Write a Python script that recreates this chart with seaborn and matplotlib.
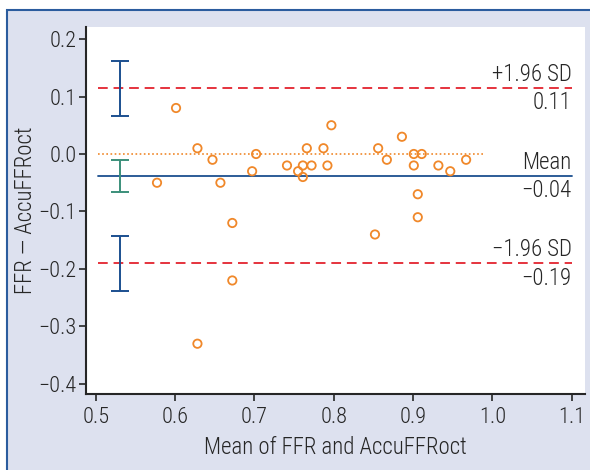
import numpy as np
import pandas as pd
import seaborn as sns
import matplotlib.pyplot as plt
from matplotlib.patches import Rectangle

# mean of FFR and AccuFFRoct vs difference
mean_vals = [0.577, 0.601, 0.628, 0.647, 0.657, 0.672, 0.672, 0.628, 0.697, 0.702,
             0.741, 0.755, 0.761, 0.761, 0.766, 0.772, 0.787, 0.792, 0.797, 0.852,
             0.856, 0.867, 0.886, 0.901, 0.911, 0.901, 0.932, 0.947, 0.967, 0.906,
             0.906]
diff_vals = [-0.05, 0.08, 0.01, -0.01, -0.05, -0.12, -0.22, -0.33, -0.03, 0.0,
             -0.02, -0.03, -0.04, -0.02, 0.01, -0.02, 0.01, -0.02, 0.05, -0.14,
             0.01, -0.01, 0.03, 0.0, 0.0, -0.02, -0.02, -0.03, -0.01, -0.07,
             -0.11]

mean_diff = -0.038
upper_loa = 0.115
lower_loa = -0.19
line_x = [0.502, 1.1]
zero_x = [0.502, 0.988]

# confidence intervals drawn at the left
ci_x = 0.53
ci_upper = [0.066, 0.162]
ci_mean = [-0.066, -0.011]
ci_lower = [-0.238, -0.142]

df = pd.DataFrame({"mean": mean_vals, "diff": diff_vals})

sns.set_style("ticks")
plt.rcParams['font.family'] = ['Roboto Condensed', 'DejaVu Sans']
plt.rcParams['font.weight'] = 'light'
plt.rcParams['axes.labelweight'] = 'light'

orange = "#f0882a"
red = "#e5333d"
navy = "#1b4f8f"
teal = "#3b8f7a"
ink = "#262626"

fig = plt.figure(figsize=(5.9, 4.7), dpi=100)
fig.patch.set_facecolor("white")
bg = Rectangle((7 / 590, -0.05), 1.1, 1 - 10 / 470 + 0.05,
               transform=fig.transFigure, facecolor="#dde1ef",
               edgecolor="#2b5c9e", linewidth=1.5, zorder=-10)
fig.add_artist(bg)

ax = fig.add_axes([86 / 590, 75.7 / 470, 499 / 590, 367.3 / 470])
ax.set_facecolor("white")

ax.plot(zero_x, [0, 0], color=orange, linestyle=(0, (1, 1.5)), linewidth=1.2)
ax.plot(line_x, [upper_loa, upper_loa], color=red, linestyle=(0, (5, 3)), linewidth=1.4)
ax.plot(line_x, [lower_loa, lower_loa], color=red, linestyle=(0, (5, 3)), linewidth=1.4)
ax.plot(line_x, [mean_diff, mean_diff], color=navy, linewidth=1.3)

for lims, col in [(ci_upper, navy), (ci_mean, teal), (ci_lower, navy)]:
    mid = (lims[0] + lims[1]) / 2
    half = (lims[1] - lims[0]) / 2
    ax.errorbar([ci_x], [mid], yerr=[half], color=col, linewidth=1.4,
                capsize=6.5, capthick=1.4, fmt="none")

sns.scatterplot(data=df, x="mean", y="diff", ax=ax, s=36, facecolor="none",
                edgecolor=orange, linewidth=1.3, zorder=5)

fs = 16.5
ax.text(1.1, upper_loa + 0.004, "+1.96 SD", ha="right", va="bottom", fontsize=fs, color=ink)
ax.text(1.1, upper_loa - 0.006, "0.11", ha="right", va="top", fontsize=fs, color=ink)
ax.text(1.1, mean_diff + 0.004, "Mean", ha="right", va="bottom", fontsize=fs, color=ink)
ax.text(1.1, mean_diff - 0.006, "\u22120.04", ha="right", va="top", fontsize=fs, color=ink)
ax.text(1.1, lower_loa + 0.004, "\u22121.96 SD", ha="right", va="bottom", fontsize=fs, color=ink)
ax.text(1.1, lower_loa - 0.006, "\u22120.19", ha="right", va="top", fontsize=fs, color=ink)

ax.set_xlim(0.4874, 1.117)
ax.set_ylim(-0.418, 0.2209)
ax.set_xticks([0.5, 0.6, 0.7, 0.8, 0.9, 1.0, 1.1])
ax.set_yticks([0.2, 0.1, 0.0, -0.1, -0.2, -0.3, -0.4])
ax.xaxis.set_major_formatter(plt.FormatStrFormatter("%.1f"))
ax.yaxis.set_major_formatter(plt.FuncFormatter(lambda v, p: ("%.1f" % v).replace("-", "\u2212")))
ax.tick_params(labelsize=16, colors=ink, length=5, width=1.2, pad=2)
ax.tick_params(axis="x", pad=4)
for s in ["top", "right"]:
    ax.spines[s].set_visible(False)
for s in ["left", "bottom"]:
    ax.spines[s].set_color(ink)
    ax.spines[s].set_linewidth(1.5)

ax.set_xlabel("Mean of FFR and AccuFFRoct", fontsize=fs, color=ink, labelpad=6)
ax.set_ylabel("FFR \u2014 AccuFFRoct", fontsize=fs, color=ink, labelpad=1)

fig.savefig("out.png", dpi=100, facecolor=fig.get_facecolor())
